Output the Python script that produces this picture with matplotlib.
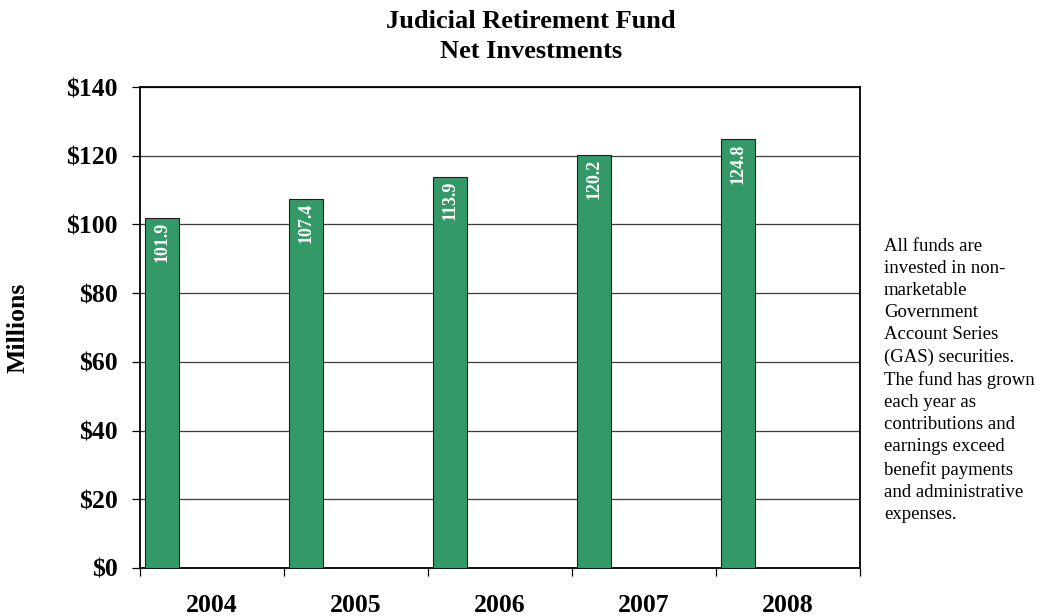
import matplotlib
matplotlib.use("Agg")
import matplotlib.pyplot as plt
import numpy as np

years = ["2004", "2005", "2006", "2007", "2008"]
net_investments = [101.9, 107.4, 113.9, 120.2, 124.8]
y_ticks = [0, 20, 40, 60, 80, 100, 120, 140]
y_tick_labels = ["$0", "$20", "$40", "$60", "$80", "$100", "$120", "$140"]
note = ("All funds are\ninvested in non-\nmarketable\nGovernment\nAccount Series\n"
        "(GAS) securities.\nThe fund has grown\neach year as\ncontributions and\n"
        "earnings exceed\nbenefit payments\nand administrative\nexpenses.")

plt.rcParams["font.family"] = ["Liberation Serif", "DejaVu Serif"]

W, H = 1060, 616
fig = plt.figure(figsize=(W / 100, H / 100), dpi=100)
ax = fig.add_axes([140 / W, 48 / H, 720 / W, 481 / H])

slots = np.arange(len(years))
bar_w = 34 / 144
bars = ax.bar(slots + 5 / 144, net_investments, width=bar_w, align="edge",
              color="#339966", edgecolor="#1f1f1f", linewidth=0.8, zorder=3)

# value labels, rotated, just inside the top of each bar
for rect, v in zip(bars, net_investments):
    ax.annotate(f"{v:.1f}", (rect.get_x() + rect.get_width() / 2, v),
                xytext=(0, -3), textcoords="offset points",
                rotation=90, ha="center", va="top", color="white",
                fontsize=13, fontweight="bold", zorder=4)

ax.set_xlim(0, len(years))
ax.set_ylim(0, 140)
ax.set_yticks(y_ticks)
ax.set_yticklabels(y_tick_labels, fontsize=18.5, fontweight="bold")
ax.set_xticks(np.arange(len(years) + 1))
ax.set_xticklabels([])
ax.set_xticks(slots + 0.5, minor=True)
ax.set_xticklabels(years, minor=True, fontsize=18.5, fontweight="bold")
ax.tick_params(axis="x", which="major", length=6, width=0.9, direction="out")
ax.tick_params(axis="x", which="minor", length=0, pad=19)
ax.tick_params(axis="y", length=6, width=0.9, pad=10)

ax.yaxis.grid(True, color="#3c3c3c", linewidth=0.9)
ax.set_axisbelow(True)
for s in ax.spines.values():
    s.set_linewidth(1.3)
    s.set_color("black")

fig.text(531 / W, 1 - 10 / H, "Judicial Retirement Fund\nNet Investments",
         ha="center", va="top", fontsize=19, fontweight="bold", linespacing=1.4)
fig.text(18.5 / W, 1 - 328 / H, "Millions", rotation=90, ha="center", va="center",
         fontsize=18.5, fontweight="bold")
fig.text(884 / W, 1 - 238 / H, note, ha="left", va="top", fontsize=13.5,
         linespacing=1.39)

fig.savefig("out.png", dpi=100)
